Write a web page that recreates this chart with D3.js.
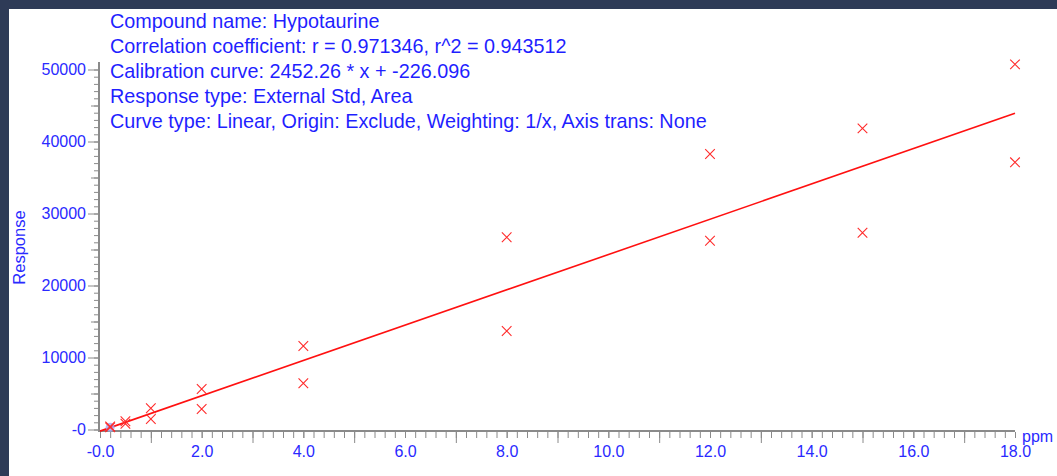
<!DOCTYPE html>
<html>
<meta charset="utf-8">
<style>
    body {
        margin: 0;
        background: #2e3b57;
        font-family: "Liberation Sans", Arial, sans-serif;
    }
    .axis path.domain {
        stroke: #8a8a8a;
        stroke-width: 2;
    }
    .axis line {
        stroke: #8a8a8a;
        stroke-width: 1;
    }
    .axis text {
        fill: #2a2aff;
        font-size: 16px;
        font-family: "Liberation Sans", Arial, sans-serif;
    }
    .info {
        fill: #1f1fff;
        font-size: 19.8px;
    }
</style>
<body>
<script src="https://cdn.jsdelivr.net/npm/d3@7"></script>
<script>
    // calibration standards (ppm) and measured responses
    var levels = [0.2, 0.2, 0.5, 0.5, 1.0, 1.0, 2.0, 2.0, 4.0, 4.0, 8.0, 8.0, 12.0, 12.0, 15.0, 15.0, 18.0, 18.0];
    var responses = [300, 420, 1150, 800, 2950, 1460, 5620, 2850, 11600, 6420, 26700, 13680, 38260, 26220, 41830, 27330, 50720, 37110];
    var highlighted = [0];   // index of the selected point

    var fitSlope = 2452.26;
    var fitIntercept = -226.096;
    var fitRange = [0, 18];

    var infoLines = [
        "Compound name: Hypotaurine",
        "Correlation coefficient: r = 0.971346, r^2 = 0.943512",
        "Calibration curve: 2452.26 * x + -226.096",
        "Response type: External Std, Area",
        "Curve type: Linear, Origin: Exclude, Weighting: 1/x, Axis trans: None"
    ];

    var xLabelValues = [0, 2, 4, 6, 8, 10, 12, 14, 16, 18];
    var xLabels = ["-0.0", "2.0", "4.0", "6.0", "8.0", "10.0", "12.0", "14.0", "16.0", "18.0"];
    var yLabelValues = [0, 10000, 20000, 30000, 40000, 50000];
    var yLabels = ["-0", "10000", "20000", "30000", "40000", "50000"];
    var xTitle = "ppm";
    var yTitle = "Response";

    var W = 1057, H = 476;
    var x0 = 99, y0 = 431;

    var svg = d3.select("body").append("svg")
        .attr("width", W)
        .attr("height", H)
        .style("display", "block");

    svg.append("rect")
        .attr("x", 9).attr("y", 9)
        .attr("width", W - 9).attr("height", H - 9)
        .attr("fill", "#ffffff");

    var x = d3.scaleLinear().domain([0, 18]).range([100, 1015]);
    var y = d3.scaleLinear().domain([0, 50000]).range([429.5, 69.5]);

    // ---- x axis ----
    var xg = svg.append("g").attr("class", "axis").attr("transform", "translate(0," + y0 + ")");
    xg.append("line").attr("x1", x0 - 1).attr("x2", x(18)).attr("y1", 0).attr("y2", 0)
        .style("stroke-width", 2);
    xg.append("g")
        .call(d3.axisBottom(x).tickValues(d3.range(0, 18.01, 0.2)).tickSize(6).tickFormat(""))
        .call(function (g) { g.select(".domain").remove(); });
    xg.append("g")
        .call(d3.axisBottom(x).tickValues(d3.range(1, 18, 2)).tickSize(11).tickFormat(""))
        .call(function (g) { g.select(".domain").remove(); });
    xg.append("g")
        .call(d3.axisBottom(x).tickValues(xLabelValues).tickSize(6)
            .tickFormat(function (d, i) { return xLabels[i]; }))
        .call(function (g) {
            g.select(".domain").remove();
            g.selectAll("text").attr("y", 26).attr("dy", null);
        });
    xg.selectAll(".tick line").attr("transform", "translate(0,1)");

    // ---- y axis ----
    var yg = svg.append("g").attr("class", "axis").attr("transform", "translate(" + x0 + ",0)");
    yg.append("line").attr("x1", 0).attr("x2", 0).attr("y1", 62).attr("y2", y0 + 1)
        .style("stroke-width", 2);
    yg.append("g")
        .call(d3.axisLeft(y).tickValues(d3.range(0, 50001, 1000)).tickSize(4).tickFormat(""))
        .call(function (g) { g.select(".domain").remove(); });
    yg.append("g")
        .call(d3.axisLeft(y).tickValues(d3.range(5000, 50000, 10000)).tickSize(7).tickFormat(""))
        .call(function (g) { g.select(".domain").remove(); });
    yg.append("g")
        .call(d3.axisLeft(y).tickValues(yLabelValues).tickSize(10).tickPadding(3)
            .tickFormat(function (d, i) { return yLabels[i]; }))
        .call(function (g) { g.select(".domain").remove(); });
    yg.selectAll(".tick line").attr("transform", "translate(-1,0)");

    // axis titles
    svg.append("text")
        .attr("transform", "translate(25,247.5) rotate(-90)")
        .attr("text-anchor", "middle")
        .style("font-size", "16.5px")
        .style("fill", "#2a2aff")
        .text(yTitle);
    svg.append("text")
        .attr("x", 1022).attr("y", 442)
        .style("font-size", "16px")
        .style("fill", "#2a2aff")
        .text(xTitle);

    // ---- fit line ----
    var line = d3.line()
        .x(function (d) { return x(d); })
        .y(function (d) { return y(fitSlope * d + fitIntercept); });
    svg.append("path")
        .datum(fitRange)
        .attr("d", line)
        .attr("fill", "none")
        .attr("stroke", "#ff1010")
        .attr("stroke-width", 1.6);

    // ---- points ----
    var pts = levels.map(function (d, i) { return { x: d, y: responses[i], i: i }; });

    svg.selectAll(".hl")
        .data(pts.filter(function (d) { return highlighted.indexOf(d.i) >= 0; }))
        .enter().append("circle")
        .attr("class", "hl")
        .attr("cx", function (d) { return x(d.x); })
        .attr("cy", function (d) { return y(d.y); })
        .attr("r", 4.5)
        .attr("fill", "#a8a8f4")
        .attr("opacity", 0.8);

    var s = 4.8;
    svg.selectAll(".mark")
        .data(pts)
        .enter().append("path")
        .attr("class", "mark")
        .attr("d", function (d) {
            var cx = x(d.x), cy = y(d.y);
            return "M" + (cx - s) + "," + (cy - s) + "L" + (cx + s) + "," + (cy + s) +
                   "M" + (cx - s) + "," + (cy + s) + "L" + (cx + s) + "," + (cy - s);
        })
        .attr("stroke", "#ff2a2a")
        .attr("stroke-width", 1.1)
        .attr("fill", "none");

    // ---- header text ----
    svg.selectAll(".info")
        .data(infoLines)
        .enter().append("text")
        .attr("class", "info")
        .attr("x", 110)
        .attr("y", function (d, i) { return 28.3 + i * 25; })
        .text(function (d) { return d; });
</script>
</body>
</html>
